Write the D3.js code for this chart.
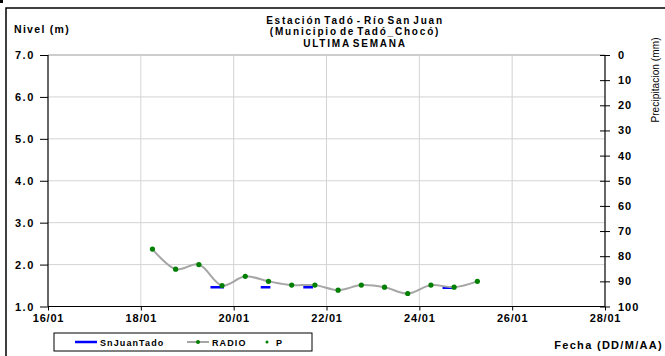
<!DOCTYPE html>
<html>
<head>
<meta charset="utf-8">
<script src="https://cdn.jsdelivr.net/npm/d3@7"></script>
<style>
  body { margin: 0; background: #fff; }
  svg text { font-family: Arial, "Liberation Sans", sans-serif; fill: #000; }
</style>
</head>
<body>
<svg id="chart" width="665" height="356"></svg>
<script>
// RADIO readings, every 12 h
const radioDates = ["18/01 06:00", "18/01 18:00", "19/01 06:00", "19/01 18:00", "20/01 06:00",
  "20/01 18:00", "21/01 06:00", "21/01 18:00", "22/01 06:00", "22/01 18:00",
  "23/01 06:00", "23/01 18:00", "24/01 06:00", "24/01 18:00", "25/01 06:00"] ;
const radioValues = [2.37, 1.89, 2.00, 1.50, 1.72, 1.60, 1.51, 1.51, 1.39, 1.51, 1.46, 1.31, 1.51, 1.46, 1.60] ;

// SnJuanTado, short runs (null = gap)
const snJuanDates = ["19/01 12:00", "19/01 19:00", null, "20/01 14:00", "20/01 19:00", null,
  "21/01 12:00", "21/01 17:00", null, "24/01 12:00", "24/01 17:00"] ;
const snJuanValues = [1.46, 1.46, null, 1.46, 1.46, null, 1.46, 1.46, null, 1.45, 1.45] ;

// P (precipitacion) - no points in this week
const pDates = [] ;
const pValues = [] ;

const levelTicks = [1, 2, 3, 4, 5, 6, 7] ;
const rainTicks = [0, 10, 20, 30, 40, 50, 60, 70, 80, 90, 100] ;
const dateTicks = ["16/01", "18/01", "20/01", "22/01", "24/01", "26/01", "28/01"] ;

const titleLines = ["Estación Tadó - Río San Juan", "(Municipio de Tadó_Chocó)", "ULTIMA SEMANA"] ;

const parseDT = d3.timeParse("%d/%m/%Y %H:%M") ;
const toDate = s => s ? parseDT(s.split(" ")[0] + "/2021 " + (s.split(" ")[1] || "00:00")) : null ;

const svg = d3.select("#chart") ;

const plotL = 48, plotR = 605, plotT = 55, plotB = 306.5 ;

const x = d3.scaleTime()
  .domain([toDate("16/01 00:00"), toDate("28/01 00:00")])
  .range([plotL, plotR]) ;
const y = d3.scaleLinear().domain([1, 7]).range([plotB, plotT]) ;
const yP = d3.scaleLinear().domain([0, 100]).range([plotT, plotB]) ;

// outer frame
svg.append("rect").attr("x", 0).attr("y", 0).attr("width", 3).attr("height", 3).attr("fill", "#000") ;
svg.append("rect")
  .attr("x", 6).attr("y", 8).attr("width", 720).attr("height", 400)
  .attr("fill", "none").attr("stroke", "#000").attr("stroke-width", 1.5) ;

// grid
const grid = svg.append("g") ;
grid.selectAll("line.h")
  .data(levelTicks.filter(d => d > 1))
  .enter().append("line")
    .attr("x1", plotL).attr("x2", plotR)
    .attr("y1", d => y(d)).attr("y2", d => y(d))
    .attr("stroke", d => d === 7 ? "#9a9a9a" : "#d4d4d4").attr("stroke-width", 1) ;
grid.selectAll("line.v")
  .data(dateTicks.slice(1, -1))
  .enter().append("line")
    .attr("x1", d => x(toDate(d))).attr("x2", d => x(toDate(d)))
    .attr("y1", plotT).attr("y2", plotB)
    .attr("stroke", "#d4d4d4").attr("stroke-width", 1) ;

// axes
const yAxis = d3.axisLeft(y).tickValues(levelTicks).tickFormat(d3.format(".1f")).tickSize(8).tickPadding(5) ;
const yAxisR = d3.axisRight(yP).tickValues(rainTicks).tickSize(5).tickPadding(8) ;
const xAxis = d3.axisBottom(x).tickValues(dateTicks.map(toDate)).tickFormat(d3.timeFormat("%d/%m")).tickSize(4).tickPadding(4) ;

function styleAxis(g, ls) {
  g.select(".domain").remove() ;
  g.selectAll("line").attr("stroke", "#000") ;
  g.selectAll("text")
    .style("font-size", "11px").style("font-weight", "bold").style("letter-spacing", (ls || 0.8) + "px") ;
}

svg.append("g").attr("transform", `translate(${plotL},0)`).call(yAxis).call(styleAxis, 1.6) ;
const gR = svg.append("g").attr("transform", `translate(${plotR},0)`).call(yAxisR).call(styleAxis, 1) ;
gR.selectAll(".tick line").attr("x1", -5) ;
svg.append("g").attr("transform", `translate(0,${plotB})`).call(xAxis).call(styleAxis, 0.8) ;

// axis lines
svg.append("line").attr("x1", plotL).attr("x2", plotL).attr("y1", plotT).attr("y2", plotB).attr("stroke", "#000").attr("stroke-width", 1.2) ;
svg.append("line").attr("x1", plotR).attr("x2", plotR).attr("y1", plotT).attr("y2", plotB).attr("stroke", "#000").attr("stroke-width", 1.2) ;
svg.append("line").attr("x1", plotL).attr("x2", plotR).attr("y1", plotB).attr("y2", plotB).attr("stroke", "#000").attr("stroke-width", 1.2) ;

// series
const snJuan = snJuanDates.map((d, i) => ({ t: toDate(d), v: snJuanValues[i] })) ;
svg.append("path")
  .datum(snJuan)
  .attr("fill", "none").attr("stroke", "#0000ff").attr("stroke-width", 2.5)
  .attr("d", d3.line().defined(d => d.t !== null && d.v !== null).x(d => x(d.t)).y(d => y(d.v))) ;

const radio = radioDates.map((d, i) => ({ t: toDate(d), v: radioValues[i] })) ;
svg.append("path")
  .datum(radio)
  .attr("fill", "none").attr("stroke", "#a6a6a6").attr("stroke-width", 2)
  .attr("d", d3.line().curve(d3.curveCatmullRom.alpha(0.5)).x(d => x(d.t)).y(d => y(d.v))) ;
svg.selectAll("circle.radio")
  .data(radio)
  .enter().append("circle")
    .attr("class", "radio")
    .attr("cx", d => x(d.t)).attr("cy", d => y(d.v)).attr("r", 2.6)
    .attr("fill", "#008000") ;

const pData = pDates.map((d, i) => ({ t: toDate(d), v: pValues[i] })) ;
svg.selectAll("circle.p")
  .data(pData)
  .enter().append("circle")
    .attr("class", "p")
    .attr("cx", d => x(d.t)).attr("cy", d => yP(d.v)).attr("r", 1.8)
    .attr("fill", "#008000") ;

// titles
svg.selectAll("text.title")
  .data(titleLines)
  .enter().append("text")
    .attr("class", "title")
    .attr("x", 355).attr("y", (d, i) => 23.5 + i * 11.8)
    .attr("text-anchor", "middle")
    .style("font-size", "10px").style("font-weight", "bold")
    .style("letter-spacing", "1.8px").style("word-spacing", "-2.5px")
    .text(d => d) ;

svg.append("text")
  .attr("x", 14).attr("y", 33)
  .style("font-size", "10.5px").style("font-weight", "bold").style("letter-spacing", "1.3px")
  .text("Nivel (m)") ;

svg.append("text")
  .attr("transform", "translate(659,80) rotate(-90)")
  .attr("text-anchor", "middle")
  .style("font-size", "10px").style("letter-spacing", "0.1px")
  .text("Precipitacion (mm)") ;

svg.append("text")
  .attr("x", 663).attr("y", 349)
  .attr("text-anchor", "end")
  .style("font-size", "11px").style("font-weight", "bold").style("letter-spacing", "1.3px")
  .text("Fecha (DD/M/AA)") ;

// legend
const legend = svg.append("g") ;
legend.append("rect")
  .attr("x", 54).attr("y", 333).attr("width", 258).attr("height", 18)
  .attr("fill", "#fff").attr("stroke", "#000").attr("stroke-width", 1) ;
const lg = [
  { name: "SnJuanTado", x: 75, line: "#0000ff", lw: 2.5, dot: false },
  { name: "RADIO", x: 187, line: "#a6a6a6", lw: 2, dot: true },
  { name: "P", x: 262, line: null, lw: 0, dot: true }
] ;
const items = legend.selectAll("g.item").data(lg).enter().append("g").attr("class", "item") ;
items.filter(d => d.line).append("line")
  .attr("x1", d => d.x).attr("x2", d => d.x + 22).attr("y1", 342).attr("y2", 342)
  .attr("stroke", d => d.line).attr("stroke-width", d => d.lw) ;
items.filter(d => d.dot).append("circle")
  .attr("cx", d => d.x + (d.line ? 11 : 5)).attr("cy", 342).attr("r", d => d.line ? 2 : 1.5)
  .attr("fill", "#008000") ;
items.append("text")
  .attr("x", d => d.line ? d.x + 25 : d.x + 14).attr("y", 345.5)
  .style("font-size", "9px").style("font-weight", "bold").style("letter-spacing", "1.1px")
  .text(d => d.name) ;
</script>
</body>
</html>
